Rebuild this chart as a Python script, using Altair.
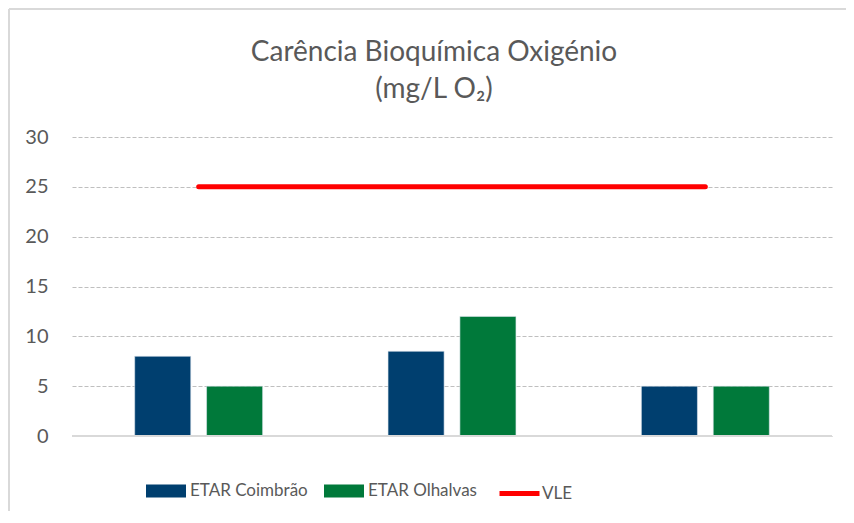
import altair as alt
import pandas as pd

groups = ["G1", "G2", "G3"]
series_names = ["ETAR Coimbrão", "ETAR Olhalvas"]
coimbrao = [8, 8.5, 5]
olhalvas = [5, 12, 5]
vle = [25, 25, 25]
colors = ["#003F6F", "#00793A"]
vle_color = "#FF0000"

bars_df = pd.DataFrame({
    "group": groups * 2,
    "series": [series_names[0]] * 3 + [series_names[1]] * 3,
    "value": coimbrao + olhalvas,
})
line_df = pd.DataFrame({"group": groups, "series": ["VLE"] * 3, "value": vle})

FONT = "Lato"
TXT = "#595959"

x_enc = alt.X("group:N", sort=groups,
              scale=alt.Scale(paddingInner=0.495, paddingOuter=0.2475),
              axis=alt.Axis(labels=False, ticks=False, domain=False, title=None, grid=False))
y_enc = alt.Y("value:Q", scale=alt.Scale(domain=[0, 30], nice=False),
              axis=alt.Axis(values=[0, 5, 10, 15, 20, 25, 30], title=None, domain=False, ticks=False,
                            labelFontSize=20, labelColor=TXT, labelFont=FONT, labelPadding=24,
                            grid=True, gridDash=[4, 2], gridColor="#BFBFBF", gridWidth=1))

bars = alt.Chart(bars_df).mark_bar(stroke="#DDE6EE", strokeWidth=0.6).encode(
    x=x_enc,
    y=y_enc,
    xOffset=alt.XOffset("series:N", sort=series_names,
                        scale=alt.Scale(paddingInner=0.22, paddingOuter=0)),
    fill=alt.Fill("series:N", sort=series_names,
                  scale=alt.Scale(domain=series_names, range=colors),
                  legend=alt.Legend(orient="none", legendX=74, legendY=334, direction="horizontal",
                                    title=None, symbolType="M-1,-0.33H1V0.33H-1Z", symbolSize=1600,
                                    symbolStrokeWidth=0, labelFontSize=17, labelFont=FONT,
                                    labelColor=TXT, columnPadding=16, labelOffset=4, padding=0)),
)

zero = alt.Chart(line_df).mark_rule(color="#D9D9D9", strokeWidth=2).encode(y=alt.datum(0))

line = alt.Chart(line_df).mark_line(strokeWidth=5, strokeCap="round").encode(
    x=alt.X("group:N", sort=groups),
    y=alt.Y("value:Q"),
    stroke=alt.Stroke("series:N", scale=alt.Scale(domain=["VLE"], range=[vle_color]),
                      legend=alt.Legend(orient="none", legendX=425, legendY=334, title=None,
                                        symbolType="stroke", symbolSize=1600, symbolStrokeWidth=5,
                                        labelFontSize=17, labelFont=FONT, labelColor=TXT,
                                        labelOffset=0, padding=0)),
)

frame_left = alt.Chart(line_df).mark_rule(color="#D9D9D9", strokeWidth=1.5).encode(
    x=alt.value(-63), y=alt.value(-128), y2=alt.value(420))
frame_top = alt.Chart(line_df).mark_rule(color="#D9D9D9", strokeWidth=1.5).encode(
    x=alt.value(-63), x2=alt.value(800), y=alt.value(-128))

chart = alt.layer(frame_left, frame_top, bars, zero, line).resolve_scale(
    fill="independent", stroke="independent"
).properties(
    width=760, height=299,
    padding={"left": 64, "top": 129, "right": 14, "bottom": 75},
    autosize=alt.AutoSizeParams(type="none"),
    title=alt.TitleParams(["Carência Bioquímica Oxigénio", "(mg/L O₂)"], fontSize=28, font=FONT,
                          color=TXT, fontWeight="normal", anchor="middle", lineHeight=37,
                          offset=-96, dx=-18),
).configure(background="white").configure_view(stroke=None)

chart.save("out.html", embed_options={"renderer": "svg", "actions": False})
